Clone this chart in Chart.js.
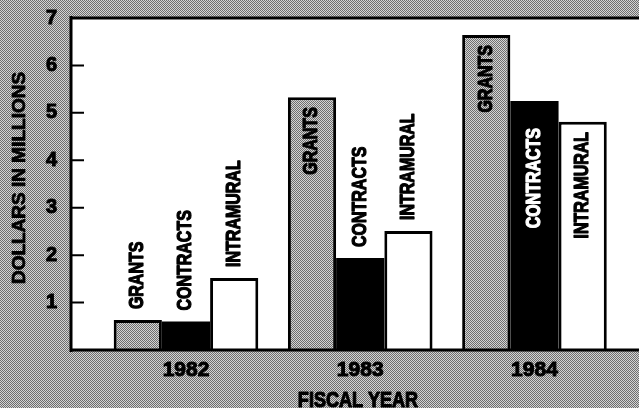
<!DOCTYPE html>
<html>
<head>
<meta charset="utf-8">
<script src="https://cdn.jsdelivr.net/npm/chart.js@4.4.1/dist/chart.umd.min.js"></script>
<style>
  html, body { margin: 0; padding: 0; background: #a5a5a5; overflow: hidden; }
</style>
</head>
<body>
<canvas id="myChart" width="639" height="408"></canvas>
<script>
let years = [1982, 1983, 1984]
let grants = [0.63, 5.33, 6.64]
let contracts = [0.6, 1.94, 5.25]
let intramural = [1.52, 2.51, 4.81]
let seriesNames = ['GRANTS', 'CONTRACTS', 'INTRAMURAL']
let yTicks = [0, 1, 2, 3, 4, 5, 6, 7]
let yTitle = 'DOLLARS IN MILLIONS'
let xTitle = 'FISCAL YEAR'

// trama de medio tono para el fondo y las barras grises
let trama = function () {
    let c = document.createElement('canvas')
    c.width = 2
    c.height = 2
    let x = c.getContext('2d')
    x.fillStyle = '#d4d4d4'
    x.fillRect(0, 0, 2, 2)
    x.fillStyle = '#6e6e6e'
    x.fillRect(0, 0, 1, 1)
    x.fillRect(1, 1, 1, 1)
    return x.createPattern(c, 'repeat')
}
let fondo = trama()

let sans = '"Liberation Sans", Arial, sans-serif'
let estrecho = 0.82   // no hay fuente condensada, se comprime a mano

let insideGap = [10, 27, 10]
let insideColor = ['#000', '#fff', '#000']

// texto rotado/comprimido, con un trazo para que quede mas grueso
let texto = function (ctx, str, x, y, rot, align, squeeze, grosor) {
    ctx.save()
    ctx.translate(x, y)
    ctx.rotate(rot)
    ctx.scale(squeeze, 1)
    ctx.textAlign = align
    ctx.fillText(str, 0, 0)
    if (grosor) {
        ctx.lineWidth = grosor
        ctx.lineJoin = 'round'
        ctx.strokeStyle = ctx.fillStyle
        ctx.strokeText(str, 0, 0)
    }
    ctx.restore()
}

let marco = {
    id: 'marco',
    beforeDraw(chart) {
        let ctx = chart.ctx
        let a = chart.chartArea
        ctx.save()
        ctx.fillStyle = fondo
        ctx.fillRect(0, 0, chart.width, chart.height)
        ctx.fillStyle = '#fff'
        ctx.fillRect(a.left, a.top, chart.width - a.left, a.bottom - a.top)
        ctx.restore()
    },
    afterDatasetsDraw(chart) {
        let ctx = chart.ctx
        ctx.save()
        ctx.font = 'bold 19.5px ' + sans
        ctx.textBaseline = 'middle'
        chart.data.datasets.forEach(function (ds, i) {
            let meta = chart.getDatasetMeta(i)
            meta.data.forEach(function (bar, j) {
                let inside = ds.data[j] > 4
                if (inside) {
                    ctx.fillStyle = insideColor[i]
                    texto(ctx, seriesNames[i], bar.x, bar.y + insideGap[i], -Math.PI / 2, 'right', estrecho, 1.2)
                } else {
                    ctx.fillStyle = '#000'
                    texto(ctx, seriesNames[i], bar.x, bar.y - 11, -Math.PI / 2, 'left', estrecho, 1.2)
                }
            })
        })
        ctx.restore()
    },
    afterDraw(chart) {
        let ctx = chart.ctx
        let a = chart.chartArea
        let y = chart.scales.y
        ctx.save()
        ctx.strokeStyle = '#000'
        ctx.lineWidth = 3
        ctx.beginPath()
        ctx.moveTo(a.left, a.top - 2)
        ctx.lineTo(a.left, a.bottom + 2)
        ctx.moveTo(a.left - 1.5, a.top)
        ctx.lineTo(chart.width, a.top)
        ctx.moveTo(a.left - 1.5, a.bottom)
        ctx.lineTo(chart.width, a.bottom)
        ctx.stroke()
        ctx.lineWidth = 2
        ctx.beginPath()
        yTicks.forEach(function (v) {
            if (v === 0 || v === 7) return
            let py = y.getPixelForValue(v)
            ctx.moveTo(a.left, py)
            ctx.lineTo(a.left + 13, py)
        })
        ctx.stroke()

        // titulos de los ejes
        ctx.fillStyle = '#000'
        ctx.font = 'bold 19px ' + sans
        ctx.textBaseline = 'middle'
        texto(ctx, yTitle, 20, 178, -Math.PI / 2, 'center', 1, 0.8)
        ctx.font = 'bold 22px ' + sans
        ctx.textBaseline = 'alphabetic'
        texto(ctx, xTitle, 358, 407, 0, 'center', estrecho, 1.2)
        ctx.restore()
    }
}

let sinRelleno = function (s) {
    s.paddingTop = 0
    s.paddingBottom = 0
    s.paddingLeft = 0
    s.paddingRight = 0
}

let miGrafico = new Chart('myChart', {
    type: 'bar',
    data: {
        labels: years,
        datasets: [
            { label: seriesNames[0], data: grants, backgroundColor: fondo, borderColor: '#000', borderWidth: 3 },
            { label: seriesNames[1], data: contracts, backgroundColor: '#000', borderColor: '#000', borderWidth: 0 },
            { label: seriesNames[2], data: intramural, backgroundColor: '#fff', borderColor: '#000', borderWidth: 3 }
        ]
    },
    options: {
        responsive: false,
        animation: false,
        datasets: { bar: { categoryPercentage: 0.83, barPercentage: 1 } },
        layout: { padding: { top: 18, right: 0, left: 0, bottom: 0 } },
        plugins: { legend: { display: false }, tooltip: { enabled: false } },
        scales: {
            x: {
                type: 'linear',
                offset: false,
                min: 1981.34,
                max: 1984.6,
                grid: { display: false, drawTicks: false },
                border: { display: false },
                afterBuildTicks: function (s) { s.ticks = years.map(v => ({ value: v })) },
                afterFit: function (s) { s.height = 58; sinRelleno(s) },
                ticks: {
                    callback: v => String(v),
                    font: { family: sans, size: 21, weight: 'bold' },
                    color: '#000',
                    textStrokeColor: '#000',
                    textStrokeWidth: 1,
                    padding: 8,
                    maxRotation: 0,
                    autoSkip: false
                },
                title: { display: false }
            },
            y: {
                min: 0,
                max: 7,
                grid: { display: false, drawTicks: false },
                border: { display: false },
                afterBuildTicks: function (s) { s.ticks = yTicks.map(v => ({ value: v })) },
                afterFit: function (s) { s.width = 71; sinRelleno(s) },
                ticks: {
                    callback: v => v === 0 ? '' : String(v),
                    font: { family: sans, size: 20, weight: 'bold' },
                    color: '#000',
                    textStrokeColor: '#000',
                    textStrokeWidth: 1,
                    padding: 14
                },
                title: { display: false }
            }
        }
    },
    plugins: [marco]
})
</script>
</body>
</html>
